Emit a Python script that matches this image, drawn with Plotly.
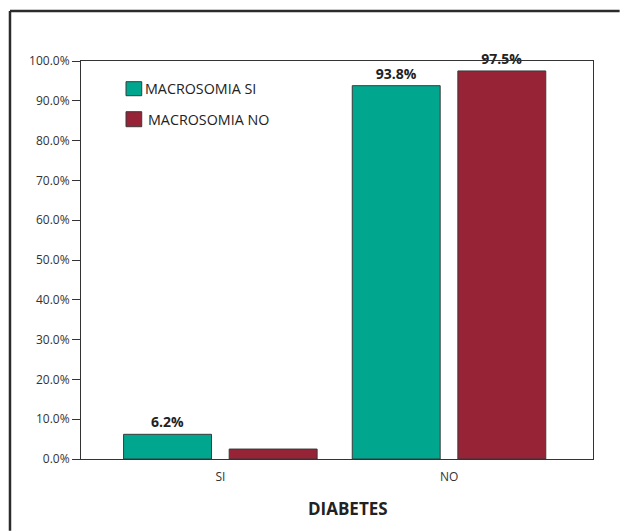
import plotly.graph_objects as go

# Diabetes categories on the x axis
categories = ["SI", "NO"]
positions = [0, 1]

# Percentages by macrosomia group
series_names = ["MACROSOMIA SI", "MACROSOMIA NO"]
macro_si = [6.2, 93.8]
macro_no = [2.5, 97.5]
labels_si = ["6.2%", "93.8%"]
labels_no = ["", "97.5%"]

y_ticks = [0, 10, 20, 30, 40, 50, 60, 70, 80, 90, 100]
y_tick_text = [f"{v:.1f}%" for v in y_ticks]

teal = "#00A78E"
maroon = "#962336"
edge = "#3a3a3a"
font_family = "Open Sans"

fig = go.Figure()
fig.add_trace(go.Bar(
    x=positions, y=macro_si, name=series_names[0],
    width=0.3845, offset=-0.4238,
    marker=dict(color=teal, line=dict(color=edge, width=1)),
    text=labels_si, textposition="outside", cliponaxis=False,
    textfont=dict(family=font_family, size=14, color="#222222", weight="bold"),
    showlegend=False,
))
fig.add_trace(go.Bar(
    x=positions, y=macro_no, name=series_names[1],
    width=0.3845, offset=0.038,
    marker=dict(color=maroon, line=dict(color=edge, width=1)),
    text=labels_no, textposition="outside", cliponaxis=False,
    textfont=dict(family=font_family, size=14, color="#222222", weight="bold"),
    showlegend=False,
))

# Legend swatches and labels
swatches = [
    (teal, 0.948, 0.9128, 0.9304, 0.121),
    (maroon, 0.8726, 0.8349, 0.8538, 0.126),
]
shapes = []
annotations = []
for (color, y_top, y_bot, y_mid, tx), name in zip(swatches, series_names):
    shapes.append(dict(type="rect", xref="paper", yref="paper",
                       x0=0.0879, x1=0.1186, y0=y_bot, y1=y_top,
                       fillcolor=color, line=dict(color=edge, width=1)))
    annotations.append(dict(xref="paper", yref="paper", x=tx, y=y_mid,
                            xanchor="left", yanchor="middle", showarrow=False,
                            text=name,
                            font=dict(family=font_family, size=14.3, color="#222222")))

# Outer frame: left and top edges of the surrounding box
frame = dict(color="#2b2b2b", width=2.5)
shapes.append(dict(type="line", xref="paper", yref="paper",
                   x0=-0.1387, x1=-0.1387, y0=-0.18, y1=1.1256, line=frame))
shapes.append(dict(type="line", xref="paper", yref="paper",
                   x0=-0.1387, x1=1.052, y0=1.1256, y1=1.1256, line=frame))

# Axis title
annotations.append(dict(xref="paper", yref="paper", x=0.5215, y=-0.1256,
                        xanchor="center", yanchor="middle", showarrow=False,
                        text="<b>DIABETES</b>",
                        font=dict(family=font_family, size=17, color="#222222")))

fig.update_layout(
    width=627, height=531,
    margin=dict(l=81, r=34, t=61, b=72),
    paper_bgcolor="white", plot_bgcolor="white",
    barmode="overlay",
    showlegend=False,
    font=dict(family=font_family, color="#333333"),
    shapes=shapes,
    annotations=annotations,
    xaxis=dict(
        range=[-0.610, 1.629],
        tickvals=positions, ticktext=categories,
        ticks="outside", ticklen=7, tickcolor="rgba(0,0,0,0)",
        tickfont=dict(family=font_family, size=12, color="#333333"),
        showline=True, linecolor="#333333", linewidth=1, mirror=True,
        showgrid=False, zeroline=False,
    ),
    yaxis=dict(
        range=[0, 100],
        tickvals=y_ticks, ticktext=y_tick_text,
        ticks="outside", ticklen=8, tickcolor="#333333", tickwidth=1,
        tickfont=dict(family=font_family, size=12, color="#333333"),
        showline=True, linecolor="#333333", linewidth=1, mirror=True,
        showgrid=False, zeroline=False,
    ),
)

fig.write_html("out.html")
